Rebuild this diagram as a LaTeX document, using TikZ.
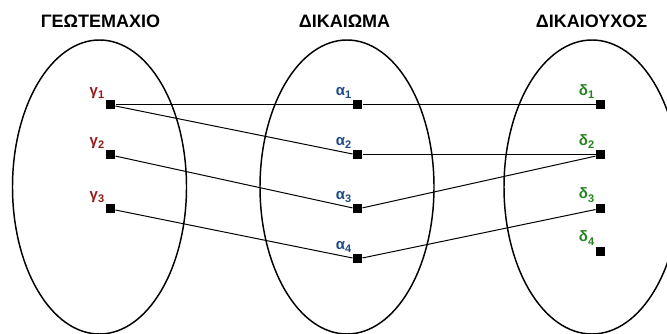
\documentclass[tikz,border=0pt]{standalone}
\usepackage{fontspec}
\setmainfont{Liberation Sans}
\definecolor{gcol}{RGB}{150,25,25}
\definecolor{acol}{RGB}{30,75,135}
\definecolor{dcol}{RGB}{35,130,30}
\newcommand{\lbl}[2]{#1\raisebox{-0.45ex}{\fontsize{8.25}{9}\selectfont #2}}
\tikzset{
  sq/.style={fill=black,inner sep=0pt,minimum size=6.75pt},
  lab/.style={anchor=south east,inner sep=0.6pt,font=\fontsize{11.25}{13}\selectfont\bfseries},
  head/.style={font=\fontsize{13.5}{16}\selectfont\bfseries},
  set/.style={line width=1.1pt}
}
\begin{document}
\begin{tikzpicture}[x=0.75pt,y=-0.75pt,line width=0.75pt]
\useasboundingbox (0,0) rectangle (667,334);

\draw[set] (99.5,187) ellipse [x radius=65.25pt, y radius=110.25pt];
\draw[set] (347,187) ellipse [x radius=65.25pt, y radius=110.25pt];
\draw[set] (592,187) ellipse [x radius=66pt, y radius=110.25pt];

\node[head] at (100.5,21.5) {ΓΕΩΤΕΜΑΧΙΟ};
\node[head] at (344.5,21.5) {ΔΙΚΑΙΩΜΑ};
\node[head] at (591.5,21.5) {ΔΙΚΑΙΟΥΧΟΣ};

\node[sq] (g1) at (110.5,105) {};
\node[sq] (g2) at (110.5,155) {};
\node[sq] (g3) at (110.5,209) {};

\node[sq] (a1) at (357.5,105) {};
\node[sq] (a2) at (357.5,155) {};
\node[sq] (a3) at (357.5,209) {};
\node[sq] (a4) at (357.5,259) {};

\node[sq] (d1) at (600.5,105) {};
\node[sq] (d2) at (600.5,155) {};
\node[sq] (d3) at (600.5,208.5) {};
\node[sq] (d4) at (600.5,251.5) {};

\node[lab,text=gcol] at (g1.north west) {\lbl{γ}{1}};
\node[lab,text=gcol] at (g2.north west) {\lbl{γ}{2}};
\node[lab,text=gcol] at (g3.north west) {\lbl{γ}{3}};

\node[lab,text=acol] at (a1.north west) {\lbl{α}{1}};
\node[lab,text=acol] at (a2.north west) {\lbl{α}{2}};
\node[lab,text=acol] at (a3.north west) {\lbl{α}{3}};
\node[lab,text=acol] at (a4.north west) {\lbl{α}{4}};

\node[lab,text=dcol] at (d1.north west) {\lbl{δ}{1}};
\node[lab,text=dcol] at (d2.north west) {\lbl{δ}{2}};
\node[lab,text=dcol] at (d3.north west) {\lbl{δ}{3}};
\node[lab,text=dcol] at (d4.north west) {\lbl{δ}{4}};

\draw (g1) -- (a1);
\draw (g1) -- (a2);
\draw (g2) -- (a3);
\draw (g3) -- (a4);
\draw (a1) -- (d1);
\draw (a2) -- (d2);
\draw (a3) -- (d2);
\draw (a4) -- (d3);
\end{tikzpicture}
\end{document}
